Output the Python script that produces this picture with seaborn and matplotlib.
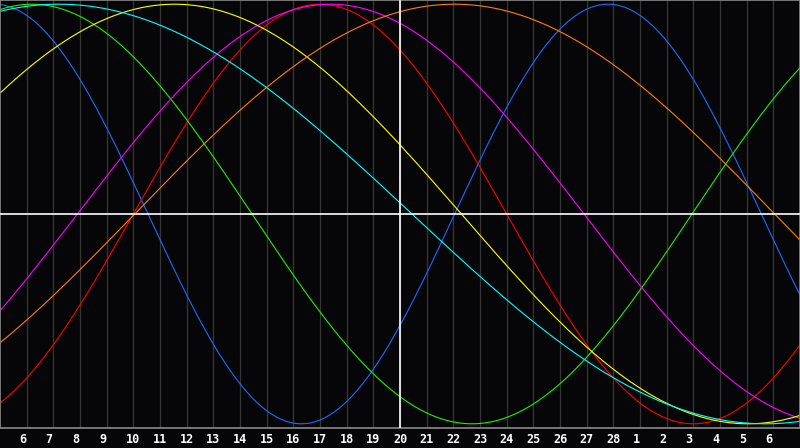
import numpy as np
import pandas as pd
import matplotlib
matplotlib.use('Agg')
import matplotlib.pyplot as plt
import seaborn as sns

# ── Cycle data (period in days, day of the peak) ──────────────────────────
CYCLES = ['Physical', 'Emotional', 'Intellectual', 'Intuitive',
          'Aesthetic', 'Awareness', 'Spiritual']
PERIODS = [23, 28, 33, 38, 43, 48, 53]
PEAK_DAYS = [27.8, 17.0, 6.2, 17.4, 11.55, 22.05, 7.2]
COLORS = ['#1c6cff', '#ff0000', '#22ee00', '#ff00ff',
          '#ffff00', '#ff8000', '#00ffff']

# x range: day 5 to day 35 (month of 28 days, then next month)
DAY_START, DAY_END = 5, 35
TODAY = 20
TICK_DAYS = list(range(6, 35))
TICK_LABELS = [str(d) if d <= 28 else str(d - 28) for d in TICK_DAYS]

BG = '#060608'

days = np.linspace(DAY_START, DAY_END, 1201)
rows = []
for name, per, peak in zip(CYCLES, PERIODS, PEAK_DAYS):
    vals = np.cos(2 * np.pi * (days - peak) / per)
    rows.append(pd.DataFrame({'day': days, 'value': vals, 'cycle': name}))
df = pd.concat(rows, ignore_index=True)

sns.set_style('dark')
plt.rcParams['font.family'] = ['DejaVu Sans Mono']

fig = plt.figure(figsize=(8, 4.48), dpi=100, facecolor=BG)
ax = fig.add_axes([0, 20 / 448, 1, 428 / 448])
ax.set_facecolor(BG)

# vertical day grid
for d in TICK_DAYS:
    ax.axvline(d, color='#363636', lw=0.9, zorder=0)

sns.lineplot(data=df, x='day', y='value', hue='cycle',
             palette=dict(zip(CYCLES, COLORS)), hue_order=CYCLES,
             lw=0.8, legend=False, ax=ax, zorder=2)

# zero line and today line
ax.axhline(0, color='white', lw=1.2, zorder=3)
ax.axvline(TODAY, color='white', lw=1.2, zorder=3)

ax.set_xlim(DAY_START, DAY_END)
ax.set_ylim(-1.02, 1.02)
ax.set_yticks([])
ax.set_xticks(TICK_DAYS)
ax.set_xticklabels([f"{t:<2}" for t in TICK_LABELS], color='white',
                   fontweight='bold', fontsize=8.5)
ax.tick_params(axis='x', length=0, pad=3.5)
ax.grid(False)
ax.set_xlabel('')
ax.set_ylabel('')
for side in ['left', 'right', 'top', 'bottom']:
    ax.spines[side].set_visible(True)
    ax.spines[side].set_color('#8a8a8a')
    ax.spines[side].set_linewidth(1.2)

fig.savefig('out.png', dpi=100, facecolor=BG)
